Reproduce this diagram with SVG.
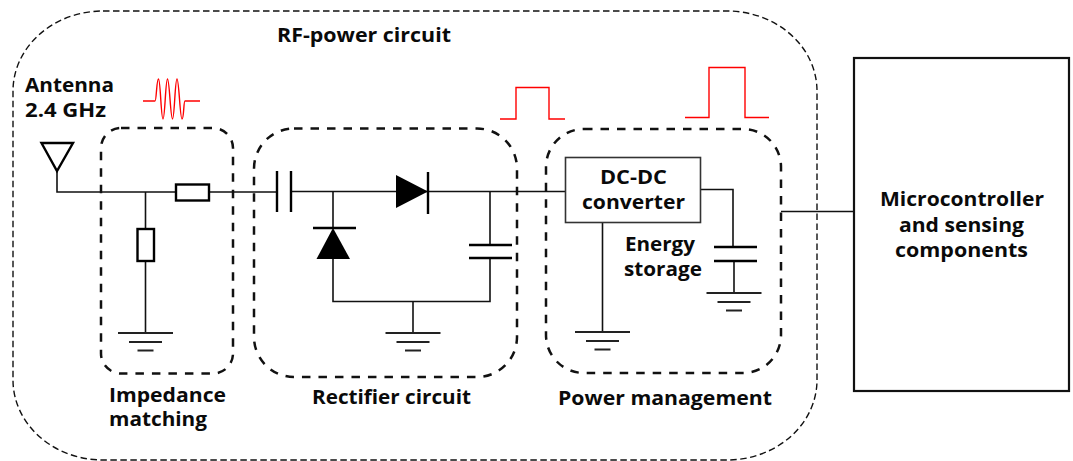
<svg xmlns="http://www.w3.org/2000/svg" width="1073" height="461" viewBox="0 0 1073 461">
<style>
.w{fill:none;stroke:#111;stroke-width:1.6}
.p{fill:none;stroke:#000;stroke-width:2.4}
.g{fill:none;stroke:#222;stroke-width:2}
.f{fill:#000;stroke:none}
.o{fill:none;stroke:#111;stroke-width:1.4;stroke-dasharray:6.500 3.500}
.d{fill:none;stroke:#111;stroke-width:2.500;stroke-dasharray:8.500 8}
.r{fill:none;stroke:#f00;stroke-width:1.400}
.b{fill:#fff;stroke:#333;stroke-width:1.600}
text{font-family:"Open Sans","Noto Sans","Liberation Sans",sans-serif;font-weight:700;font-size:19px;fill:#0a0a0a}
</style>
<defs>
<g id="gnd"><path class="g" d="M-27.500 0H27.500M-16.500 9H16.500M-8 17.500H8"/></g>
</defs>
<g id="rf-power-circuit"><rect class="o" x="13" y="11" width="804" height="449" rx="90" ry="80"/><text x="277" y="42" textLength="174" lengthAdjust="spacingAndGlyphs">RF-power circuit</text></g>
<g id="connectors">
<path class="w" d="M57 171V192H176M209 192H277M291 191.500H565M145.500 192V229M145.500 261V333"/>
<path class="w" d="M333 191.500V228M333 259V301.500H490V258M490 245V191.500M413 301.500V333"/>
<path class="w" d="M700 189.500H733V247M734 261V293M602.500 222V332M781 211.500H853"/>
</g>
<g id="antenna"><path class="p" d="M41.500 143H73L57 171Z"/><text x="25" y="92" textLength="89" lengthAdjust="spacingAndGlyphs">Antenna</text><text x="25" y="117" textLength="81" lengthAdjust="spacingAndGlyphs">2.4 GHz</text></g>
<g id="impedance-matching">
<rect class="d" x="101" y="128" width="132" height="245.500" rx="20"/>
<rect class="p" x="176" y="184.500" width="33" height="16"/>
<rect class="p" x="137.500" y="229" width="16.500" height="32"/>
<use href="#gnd" x="145.500" y="333"/>
<text x="109" y="402" textLength="117" lengthAdjust="spacingAndGlyphs">Impedance</text><text x="109" y="426" textLength="98" lengthAdjust="spacingAndGlyphs">matching</text>
</g>
<g id="rectifier-circuit">
<rect class="d" x="254" y="128.500" width="263" height="248.500" rx="40"/>
<path class="p" d="M277 171V212M291 171V212"/>
<path class="f" d="M396 175L428 191.500L396 208Z"/><path class="p" d="M428 172V214"/>
<path class="f" d="M333 228L350 259H316.500Z"/><path class="p" d="M313 228H356"/>
<path class="p" d="M469 245H512M469 258H512"/>
<use href="#gnd" x="413" y="333"/>
<text x="312" y="404" textLength="159" lengthAdjust="spacingAndGlyphs">Rectifier circuit</text>
</g>
<g id="power-management">
<rect class="d" x="546" y="129" width="235" height="244" rx="38"/>
<path class="p" d="M714 247H757M714 261H757"/>
<use href="#gnd" x="734" y="293"/>
<use href="#gnd" x="602.500" y="332"/>
<text x="558" y="405" textLength="214" lengthAdjust="spacingAndGlyphs">Power management</text>
<text x="625" y="251" textLength="70" lengthAdjust="spacingAndGlyphs">Energy</text><text x="624" y="276" textLength="78" lengthAdjust="spacingAndGlyphs">storage</text>
</g>
<g id="dc-dc-converter"><rect class="b" x="565.500" y="157.500" width="135" height="65"/><text x="600" y="184" textLength="67" lengthAdjust="spacingAndGlyphs">DC-DC</text><text x="582" y="209" textLength="103" lengthAdjust="spacingAndGlyphs">converter</text></g>
<g id="microcontroller"><rect x="854" y="58" width="215" height="333" fill="#fff" stroke="#111" stroke-width="2.200"/>
<text x="880" y="206" textLength="164" lengthAdjust="spacingAndGlyphs">Microcontroller</text><text x="899" y="232" textLength="125" lengthAdjust="spacingAndGlyphs">and sensing</text><text x="895" y="257" textLength="133" lengthAdjust="spacingAndGlyphs">components</text></g>
<g id="waveforms">
<path class="r" d="M143 101H155C156.500 101 156.500 79 158.500 79C160.500 79 161 119 163 119C165 119 165.500 79 167.500 79C169.500 79 170.500 119 172.500 119C174.500 119 175 79 177 79C179 79 180 119 182 119C184 119 183.500 101 185 101H200"/>
<path class="r" d="M500 119H516V87.500H549V119H565"/>
<path class="r" d="M685 117.500H709V67.500H745V117.500H769"/>
</g>
</svg>
